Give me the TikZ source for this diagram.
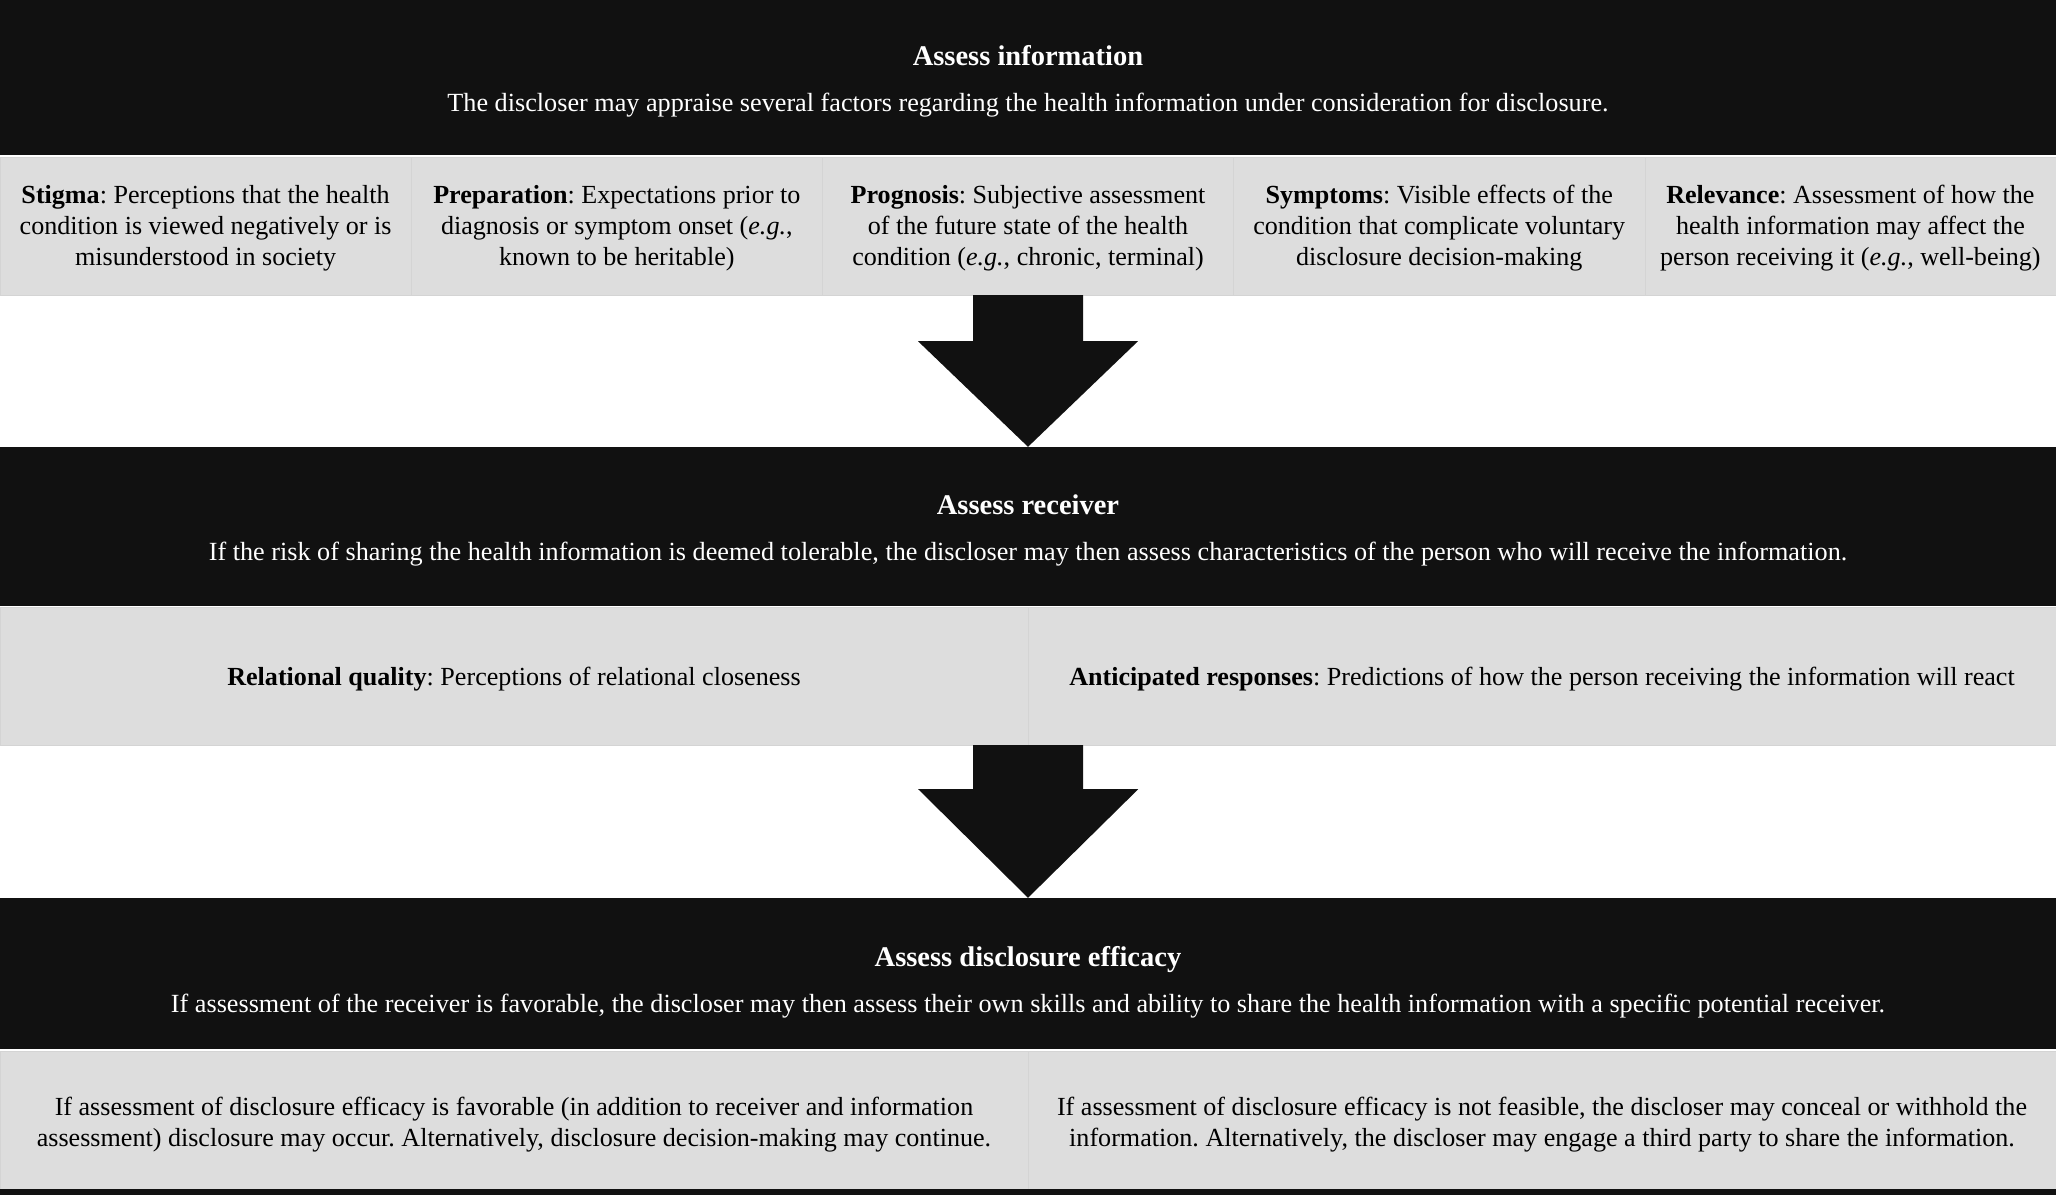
\documentclass[tikz,border=0pt]{standalone}
\usepackage{fontspec}
\setmainfont{Liberation Serif}
\usepackage{tikz}
\usetikzlibrary{calc}

\definecolor{bandblack}{RGB}{17,17,17}
\definecolor{cellgray}{RGB}{221,221,221}
\definecolor{celledge}{RGB}{212,212,212}

\frenchspacing

\begin{document}
\begin{tikzpicture}[x=1pt,y=-1pt,
	band/.style={fill=bandblack,minimum width=2056pt,minimum height=#1,inner sep=0pt},
	bandtext/.style={text=white,inner sep=0pt,align=center,font=\fontsize{26.2}{32}\selectfont},
	cellfive/.style={fill=cellgray,draw=celledge,minimum width=411.2pt,minimum height=138pt,inner sep=0pt},
	celltwo/.style={fill=cellgray,draw=celledge,minimum width=1028pt,minimum height=138pt,inner sep=0pt},
	celltext/.style={inner sep=0pt,align=center,font=\fontsize{26.1}{31}\selectfont}]
	
	% 画布大小
	\useasboundingbox[fill=white] (0,0) rectangle (2056,1195);
	
	% 第一层：评估信息
	\node[band=155pt] (info) at (1028,77.5) {};
	\node[bandtext] (infotext) at ($(info.center)+(0,4)$) {\textbf{\fontsize{28.5}{32}\selectfont Assess information}\\[14pt]The discloser may appraise several factors regarding the health information under consideration for disclosure.};
	
	% 五个因素
	\node[cellfive] (stigma) at (205.6,226) {};
	\node[cellfive] (preparation) at (616.8,226) {};
	\node[cellfive] (prognosis) at (1028,226) {};
	\node[cellfive] (symptoms) at (1439.2,226) {};
	\node[cellfive] (relevance) at (1850.4,226) {};
	\node[celltext] (stigmatext) at ($(stigma.center)+(0,2)$) {\textbf{Stigma}: Perceptions that the health\\condition is viewed negatively or is\\misunderstood in society};
	\node[celltext] (preparationtext) at ($(preparation.center)+(0,2)$) {\textbf{Preparation}: Expectations prior to\\diagnosis or symptom onset (\textit{e.g.},\\known to be heritable)};
	\node[celltext] (prognosistext) at ($(prognosis.center)+(0,2)$) {\textbf{Prognosis}: Subjective assessment\\of the future state of the health\\condition (\textit{e.g.}, chronic, terminal)};
	\node[celltext] (symptomstext) at ($(symptoms.center)+(0,2)$) {\textbf{Symptoms}: Visible effects of the\\condition that complicate voluntary\\disclosure decision-making};
	\node[celltext] (relevancetext) at ($(relevance.center)+(0,2)$) {\textbf{Relevance}: Assessment of how the\\health information may affect the\\person receiving it (\textit{e.g.}, well-being)};
	
	% 第二层：评估接收者
	\node[band=159pt] (receiver) at (1028,526.5) {};
	\node[bandtext] (receivertext) at ($(receiver.center)+(0,4)$) {\textbf{\fontsize{28.5}{32}\selectfont Assess receiver}\\[14pt]If the risk of sharing the health information is deemed tolerable, the discloser may then assess characteristics of the person who will receive the information.};
	
	\node[celltwo] (relational) at (514,676) {};
	\node[celltwo] (anticipated) at (1542,676) {};
	\node[celltext] (relationaltext) at ($(relational.center)+(0,3)$) {\textbf{Relational quality}: Perceptions of relational closeness};
	\node[celltext] (anticipatedtext) at ($(anticipated.center)+(0,3)$) {\textbf{Anticipated responses}: Predictions of how the person receiving the information will react};
	
	% 第三层：评估披露效能
	\node[band=151pt] (efficacy) at (1028,973.5) {};
	\node[bandtext] (efficacytext) at ($(efficacy.center)+(0,9)$) {\textbf{\fontsize{28.5}{32}\selectfont Assess disclosure efficacy}\\[14pt]If assessment of the receiver is favorable, the discloser may then assess their own skills and ability to share the health information with a specific potential receiver.};
	
	\node[celltwo] (occur) at (514,1120) {};
	\node[celltwo] (conceal) at (1542,1120) {};
	\node[celltext] (occurtext) at ($(occur.center)+(0,5)$) {If assessment of disclosure efficacy is favorable (in addition to receiver and information\\assessment) disclosure may occur. Alternatively, disclosure decision-making may continue.};
	\node[celltext] (concealtext) at ($(conceal.center)+(0,5)$) {If assessment of disclosure efficacy is not feasible, the discloser may conceal or withhold the\\information. Alternatively, the discloser may engage a third party to share the information.};
	
	% 底部黑线
	\fill[bandblack] (occur.south west) rectangle (2056,1195);
	
	% 绘制箭头
	\fill[bandblack] ($(prognosis.south)+(-55,0)$) -- ++(110,0) -- ++(0,46) -- ++(55,0) -- (receiver.north) -- ($(prognosis.south)+(-110,46)$) -- ++(55,0) -- cycle;
	\fill[bandblack] ($(relational.south east)+(-55,0)$) -- ++(110,0) -- ++(0,44) -- ++(55,0) -- (efficacy.north) -- ($(relational.south east)+(-110,44)$) -- ++(55,0) -- cycle;
	
\end{tikzpicture}
\end{document}
